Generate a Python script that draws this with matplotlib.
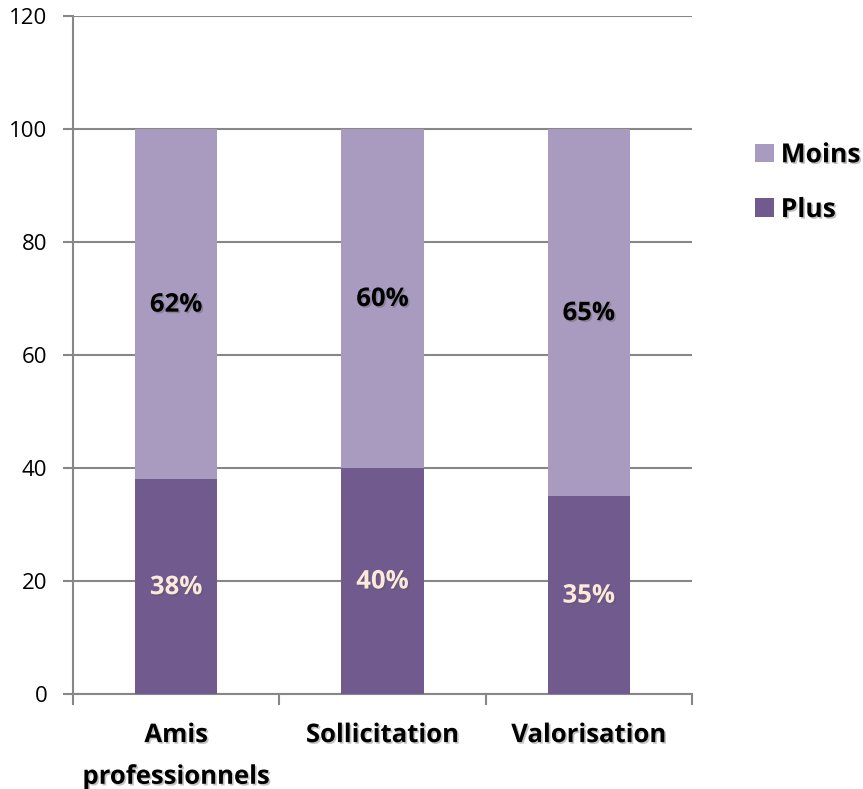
import numpy as np
import matplotlib.pyplot as plt
import matplotlib.patheffects as pe

categories = ['Amis\nprofessionnels', 'Sollicitation', 'Valorisation']
plus = [38, 40, 35]
moins = [62, 60, 65]

c_plus = '#715a8e'
c_moins = '#a99bc0'
grid_c = '#878787'

plt.rcParams['font.family'] = ['Open Sans', 'DejaVu Sans']

fig = plt.figure(figsize=(8.63, 7.89), dpi=100, facecolor='w')
ax = fig.add_axes([0.0846, 0.1204, 0.7173, 0.8593])

shadow = [pe.SimplePatchShadow(offset=(1.2, -1.2), shadow_rgbFace='#555555', alpha=0.35), pe.Normal()]

x = np.arange(len(categories))
b1 = ax.bar(x, plus, 0.4, color=c_plus, label='Plus', zorder=3)
b2 = ax.bar(x, moins, 0.4, bottom=plus, color=c_moins, label='Moins', zorder=3)

for i in range(len(x)):
    ax.text(x[i], plus[i] / 2, '%d%%' % plus[i], ha='center', va='center',
            color='#fce9dc', fontsize=18.5, fontweight='bold', zorder=4, path_effects=shadow)
    ax.text(x[i], plus[i] + moins[i] / 2, '%d%%' % moins[i], ha='center', va='center',
            color='black', fontsize=18.5, fontweight='bold', zorder=4, path_effects=shadow)

ax.set_xlim(-0.5, 2.5)
ax.set_ylim(0, 120)
ax.set_yticks(range(0, 121, 20))
ax.yaxis.grid(True, color=grid_c, lw=1.5)
ax.set_axisbelow(True)
ax.tick_params(axis='y', length=7, width=1.5, color=grid_c, labelsize=16, pad=11.5)
ax.set_xticks(x)
ax.set_xticklabels(categories, fontsize=18.5, fontweight='bold', linespacing=1.7,
                   path_effects=shadow)
ax.tick_params(axis='x', length=0, pad=19.5)
ax.set_xticks([-0.5, 0.5, 1.5, 2.5], minor=True)
ax.tick_params(axis='x', which='minor', length=8, width=1.5, color=grid_c)
for s in ['top', 'right']:
    ax.spines[s].set_visible(False)
for s in ['left', 'bottom']:
    ax.spines[s].set_color(grid_c)
    ax.spines[s].set_linewidth(1.5)

leg = fig.legend(handles=[b2, b1], loc='upper left', bbox_to_anchor=(0.8475, 0.851),
                 frameon=False, prop={'weight': 'bold', 'size': 19},
                 handlelength=0.72, handleheight=0.72, handletextpad=0.25, labelspacing=1.05)
for t in leg.get_texts():
    t.set_path_effects(shadow)

fig.savefig('out.png', dpi=100)
